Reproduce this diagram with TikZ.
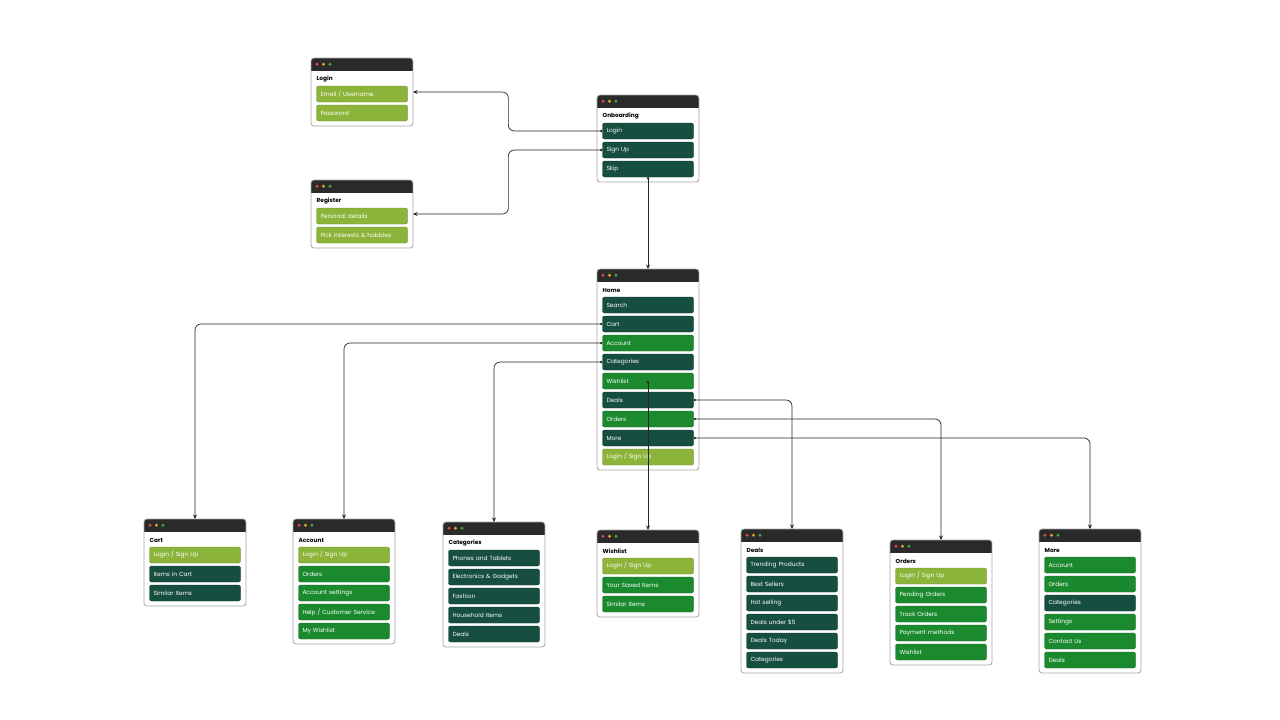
\documentclass[tikz,border=0pt]{standalone}
\usepackage{fontspec}
\setsansfont{Poppins}
\usetikzlibrary{arrows.meta}
\usepackage{xcolor}

\definecolor{barGray}{HTML}{2A2A2A}
\definecolor{scrDark}{HTML}{164E40}
\definecolor{scrGreen}{HTML}{1B8A2E}
\definecolor{scrLime}{HTML}{8CB43A}
\definecolor{dotRed}{HTML}{E5483F}
\definecolor{dotYellow}{HTML}{E0A92A}
\definecolor{dotGreen}{HTML}{3BAA4F}

% #1 name, #2 left, #3 top, #4 height, #5 title, #6 colour/item list
\newcommand{\appwin}[6]{%
  \node[winframe, minimum height=#4pt, anchor=north west] (#1) at (#2,#3) {};
  \begin{scope}
    \clip[rounded corners=3pt] (#1.north west) rectangle (#1.south east);
    \fill[barGray] (#1.north west) rectangle ([yshift=-12.5pt]#1.north east);
  \end{scope}
  \draw[winline] (#1.north west) rectangle (#1.south east);
  \fill[dotRed] ([xshift=6pt,yshift=-6.25pt]#1.north west) circle (1.7pt);
  \fill[dotYellow] ([xshift=12.5pt,yshift=-6.25pt]#1.north west) circle (1.7pt);
  \fill[dotGreen] ([xshift=19pt,yshift=-6.25pt]#1.north west) circle (1.7pt);
  \node[wintitle] at ([xshift=5.5pt,yshift=-21pt]#1.north west) {#5};
  \foreach \clr/\txt [count=\i] in {#6}
    \node[item, fill=\clr, draw=\clr!75!black] (#1-\i) at (#2+51, {#3+17+19*\i}) {\txt};
}

\begin{document}
\begin{tikzpicture}[x=1pt, y=-1pt, >=Stealth,
  winframe/.style={rectangle, fill=white, minimum width=102pt, inner sep=0pt, outer sep=0pt},
  winline/.style={draw=black!35, line width=0.8pt, rounded corners=3pt},
  wintitle/.style={anchor=west, inner sep=0pt, font=\sffamily\bfseries\fontsize{5.8}{6}\selectfont},
  item/.style={rectangle, rounded corners=2pt, line width=0.3pt, minimum width=91pt, minimum height=16pt,
    text width=83pt, inner xsep=4pt, inner ysep=0pt, align=left, text=white,
    font=\sffamily\fontsize{5.9}{6}\selectfont},
  link/.style={draw=black!85, line width=0.7pt, rounded corners=6pt,
    {Circle[length=2.4pt]}-{Stealth[length=4.5pt,width=4pt]}}
]
\fill[white] (0,0) rectangle (1280,720);
\useasboundingbox (0,0) rectangle (1280,720);

% onboarding flow
\appwin{login}{311}{58}{68}{Login}{scrLime/{Email / Username}, scrLime/Password}
\appwin{register}{311}{180}{68}{Register}{scrLime/Personal details, scrLime/{Pick interests \& hobbies}}
\appwin{onboard}{597}{95}{87}{Onboarding}{scrDark/Login, scrDark/Sign Up, scrDark/Skip}

% home
\appwin{home}{597}{269}{201}{Home}{scrDark/Search, scrDark/Cart, scrGreen/Account, scrDark/Categories,
  scrGreen/Wishlist, scrDark/Deals, scrGreen/Orders, scrDark/More, scrLime/{Login / Sign Up}}

% screens under home
\appwin{cart}{144}{519}{87}{Cart}{scrLime/{Login / Sign Up}, scrDark/Items in Cart, scrDark/Similar Items}
\appwin{account}{293}{519}{125}{Account}{scrLime/{Login / Sign Up}, scrGreen/Orders, scrGreen/Account settings,
  scrGreen/{Help / Customer Service}, scrGreen/My Wishlist}
\appwin{categ}{443}{522}{125}{Categories}{scrDark/Phones and Tablets, scrDark/{Electronics \& Gadgets},
  scrDark/Fashion, scrDark/Household Items, scrDark/Deals}
\appwin{wish}{597}{530}{87}{Wishlist}{scrLime/{Login / Sign Up}, scrGreen/Your Saved Items, scrGreen/Similar Items}
\appwin{deals}{741}{529}{144}{Deals}{scrDark/Trending Products, scrDark/Best Sellers, scrDark/Hot selling,
  scrDark/{Deals under \$5}, scrDark/Deals Today, scrDark/Categories}
\appwin{orders}{890}{540}{125}{Orders}{scrLime/{Login / Sign Up}, scrGreen/Pending Orders, scrGreen/Track Orders,
  scrGreen/Payment methods, scrGreen/Wishlist}
\appwin{more}{1039}{529}{144}{More}{scrGreen/Account, scrGreen/Orders, scrDark/Categories,
  scrGreen/Settings, scrGreen/Contact Us, scrGreen/Deals}

% connectors
\draw[link] (onboard-1.west) -- ++(-94,0) |- (login.east);
\draw[link] (onboard-2.west) -- ++(-94,0) |- (register.east);
\draw[link] (onboard-3.south) -- (home.north);
\draw[link] (home-2.west) -| (cart.north);
\draw[link] (home-3.west) -| (account.north);
\draw[link] (home-4.west) -| (categ.north);
\draw[link] (home-5.center) -- (wish.north);
\draw[link] (home-6.east) -| (deals.north);
\draw[link] (home-7.east) -| (orders.north);
\draw[link] (home-8.east) -| (more.north);
\end{tikzpicture}
\end{document}
